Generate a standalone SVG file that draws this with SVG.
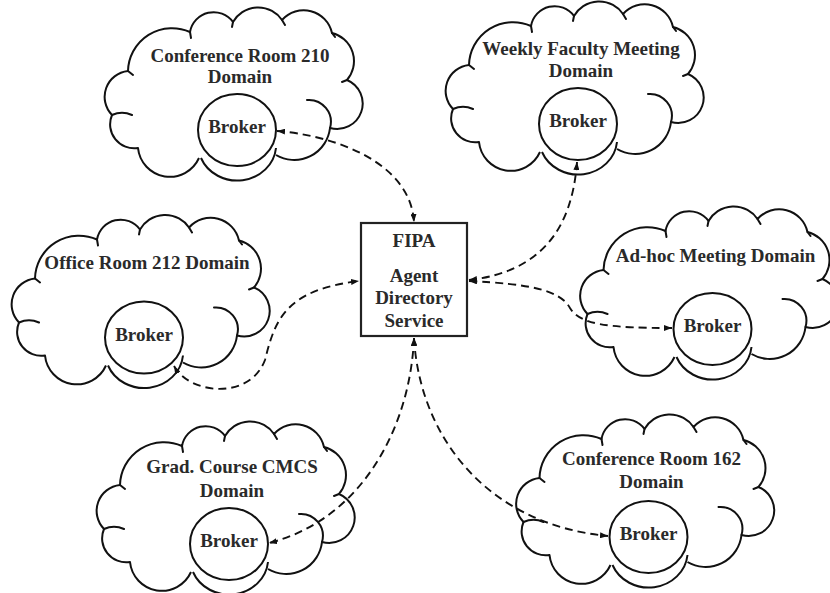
<svg xmlns="http://www.w3.org/2000/svg" width="830" height="593" viewBox="0 0 830 593">
<style>
.cloud{fill:#fff;stroke:#111;stroke-width:2;stroke-linejoin:round}
.tick{fill:none;stroke:#111;stroke-width:2;stroke-linecap:round}
.broker{fill:#fff;stroke:#111;stroke-width:2}
.arc{fill:none;stroke:#111;stroke-width:2}
text{font-family:"Liberation Serif","Times New Roman",serif;font-weight:bold;font-size:19px;fill:#2a2a2a;text-anchor:middle}
.conn{fill:none;stroke:#111;stroke-width:1.9;stroke-dasharray:8 5;marker-start:url(#ah);marker-end:url(#ah)}
.box{fill:#fff;stroke:#222;stroke-width:2.2}
</style>
<defs>
<marker id="ah" viewBox="0 0 8 6" refX="8" refY="3" markerWidth="8" markerHeight="6" markerUnits="userSpaceOnUse" orient="auto-start-reverse"><path d="M0,0 L8,3 L0,6 z" fill="#111"/></marker>
<g id="cloudShape">
<path class="cloud" d="M94,150 A32,32 0 0 1 33,140 A24,24 0 0 1 7,107 A26,26 0 0 1 23,63 A44,44 0 0 1 85,24 A24,24 0 0 1 128,14 A29,29 0 0 1 177,12 A29,29 0 0 1 227,25 A29,29 0 0 1 242,72 A25.5,25.5 0 0 1 225,120 A36,36 0 0 1 171,147"/>
<path class="tick" d="M23,63 l5,4 M85,24 l1,6 M128,14 l-1,5 M177,12 l3,5 M227,25 l3,4 M242,72 l-5,2 M202,92 A22,22 0 0 1 225,120 M7,107 A24,24 0 0 1 27,107"/>
<path class="arc" d="M96,150 A39,36 0 0 0 171,140"/>
<ellipse class="broker" cx="132" cy="122" rx="39" ry="36"/>
</g>
</defs>

<g id="cloud-conference-210" transform="translate(105,8)">
<use href="#cloudShape"/>
<text x="135" y="54">Conference Room 210</text>
<text x="135" y="75">Domain</text>
<text x="132" y="125">Broker</text>
</g>

<g id="cloud-weekly-faculty" transform="translate(446,2)">
<use href="#cloudShape"/>
<text x="135" y="53">Weekly Faculty Meeting</text>
<text x="135" y="75">Domain</text>
<text x="132" y="125">Broker</text>
</g>

<g id="cloud-office-212" transform="translate(12,215.5)">
<use href="#cloudShape"/>
<text x="135" y="53">Office Room 212 Domain</text>
<text x="132" y="125">Broker</text>
</g>

<g id="cloud-adhoc" transform="translate(580.5,207)">
<use href="#cloudShape"/>
<text x="135" y="55">Ad-hoc Meeting Domain</text>
<text x="132" y="125">Broker</text>
</g>

<g id="cloud-grad-course" transform="translate(97,422)">
<use href="#cloudShape"/>
<text x="135" y="51">Grad. Course CMCS</text>
<text x="135" y="74.5">Domain</text>
<text x="132" y="125">Broker</text>
</g>

<g id="cloud-conference-162" transform="translate(516.5,415)">
<use href="#cloudShape"/>
<text x="135" y="50">Conference Room 162</text>
<text x="135" y="73">Domain</text>
<text x="132" y="125">Broker</text>
</g>

<g id="fipa-directory">
<rect class="box" x="361" y="223" width="106" height="113"/>
<text x="414" y="247">FIPA</text>
<text x="414" y="282">Agent</text>
<text x="414" y="304">Directory</text>
<text x="414" y="327">Service</text>
</g>

<g id="connectors">
<path class="conn" d="M277,131 C330,135 410,160 414,222"/>
<path class="conn" d="M577,162 C572,230 540,272 469,280"/>
<path class="conn" d="M469,281 C530,284 560,290 570,308 C580,325 610,328 672,328"/>
<path class="conn" d="M174,366 C190,395 250,400 265,360 C275,320 285,290 359,281"/>
<path class="conn" d="M414,338 C410,430 360,520 269,543"/>
<path class="conn" d="M414,338 C420,440 490,525 608,536"/>
</g>
</svg>
